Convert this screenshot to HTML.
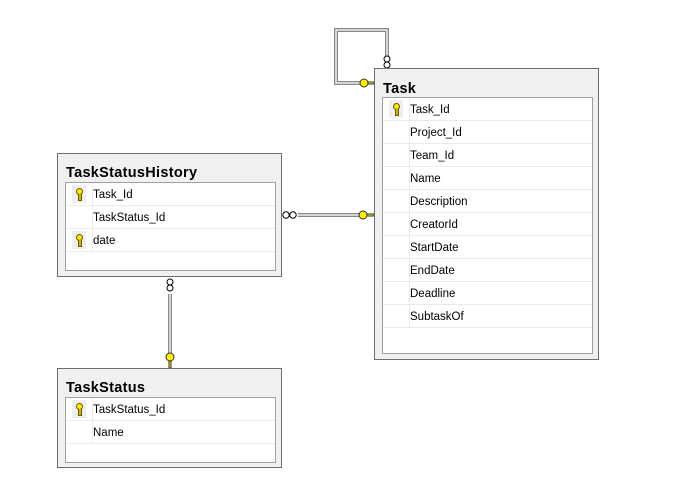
<!DOCTYPE html>
<html><head><style>
body{margin:0;width:673px;height:504px;background:#fff;position:relative;overflow:hidden;font-family:"Liberation Sans",sans-serif;}
.box{position:absolute;background:#f0f0f0;border:1px solid #6e6e6e;box-sizing:border-box;}
.title{position:absolute;left:8px;top:11px;font-weight:bold;font-size:14.5px;color:#000;letter-spacing:0.3px;}
.grid{position:absolute;background:#fff;border:1px solid #a0a0a0;box-sizing:border-box;}
.row{position:relative;height:23px;border-bottom:1px solid #eaeaea;box-sizing:border-box;font-size:11.5px;line-height:24px;color:#000;}
.row .ic{position:absolute;left:0;top:0;width:26px;height:22px;border-right:1px solid #eaeaea;}
.row span{position:absolute;left:27px;}
.key{position:absolute;left:6px;top:2px;width:14px;height:18px;background:#eee;}
.key:before{content:"";position:absolute;left:4px;top:3px;width:5px;height:5px;border:1px solid #6b5b00;border-radius:50%;background:#ffe900;}
.key:after{content:"";position:absolute;left:6px;top:9px;width:2px;height:6px;background:#c9b400;border:1px solid #6b5b00;border-top:none;}
</style></head><body>
<svg width="673" height="504" style="position:absolute;left:0;top:0">
<g fill="none">
<polyline points="387,56 387,30 336,30 336,83 360,83" stroke="#888" stroke-width="4"/>
<polyline points="387,56 387,30 336,30 336,83 360,83" stroke="#eee" stroke-width="1.5"/>
<line x1="298" y1="215" x2="360" y2="215" stroke="#888" stroke-width="4"/>
<line x1="298" y1="215" x2="360" y2="215" stroke="#eee" stroke-width="1.5"/>
<line x1="170" y1="294" x2="170" y2="355" stroke="#888" stroke-width="4"/>
<line x1="170" y1="294" x2="170" y2="355" stroke="#eee" stroke-width="1.5"/>
</g>
<g fill="#fff" stroke="#000" stroke-width="1">
<circle cx="387" cy="59" r="3"/><circle cx="387" cy="65" r="3"/>
<circle cx="286" cy="215" r="3.2"/><circle cx="293" cy="215" r="3.2"/>
<circle cx="170" cy="282" r="3"/><circle cx="170" cy="288" r="3"/>
</g>
<g fill="#ffec00" stroke="#333" stroke-width="1">
<circle cx="364" cy="83" r="4"/><rect x="368" y="82" width="6" height="2"/>
<circle cx="363" cy="215" r="4"/><rect x="367" y="214" width="7" height="2"/>
<circle cx="170" cy="357" r="4"/><rect x="169" y="361" width="2" height="7"/>
</g>
</svg>

<div class="box" style="left:374px;top:68px;width:225px;height:292px;">
<div class="title" style="top:12px">Task</div>
<div class="grid" style="left:7px;top:28px;width:211px;height:257px;">
<div class="row"><div class="ic"><div class="key"></div></div><span>Task_Id</span></div>
<div class="row"><div class="ic"></div><span>Project_Id</span></div>
<div class="row"><div class="ic"></div><span>Team_Id</span></div>
<div class="row"><div class="ic"></div><span>Name</span></div>
<div class="row"><div class="ic"></div><span>Description</span></div>
<div class="row"><div class="ic"></div><span>CreatorId</span></div>
<div class="row"><div class="ic"></div><span>StartDate</span></div>
<div class="row"><div class="ic"></div><span>EndDate</span></div>
<div class="row"><div class="ic"></div><span>Deadline</span></div>
<div class="row"><div class="ic"></div><span>SubtaskOf</span></div>
</div></div>

<div class="box" style="left:57px;top:153px;width:225px;height:124px;">
<div class="title">TaskStatusHistory</div>
<div class="grid" style="left:7px;top:28px;width:211px;height:89px;">
<div class="row"><div class="ic"><div class="key"></div></div><span>Task_Id</span></div>
<div class="row"><div class="ic"></div><span>TaskStatus_Id</span></div>
<div class="row"><div class="ic"><div class="key"></div></div><span>date</span></div>
</div></div>

<div class="box" style="left:57px;top:368px;width:225px;height:100px;">
<div class="title">TaskStatus</div>
<div class="grid" style="left:7px;top:28px;width:211px;height:66px;">
<div class="row"><div class="ic"><div class="key"></div></div><span>TaskStatus_Id</span></div>
<div class="row"><div class="ic"></div><span>Name</span></div>
</div></div>
</body></html>
